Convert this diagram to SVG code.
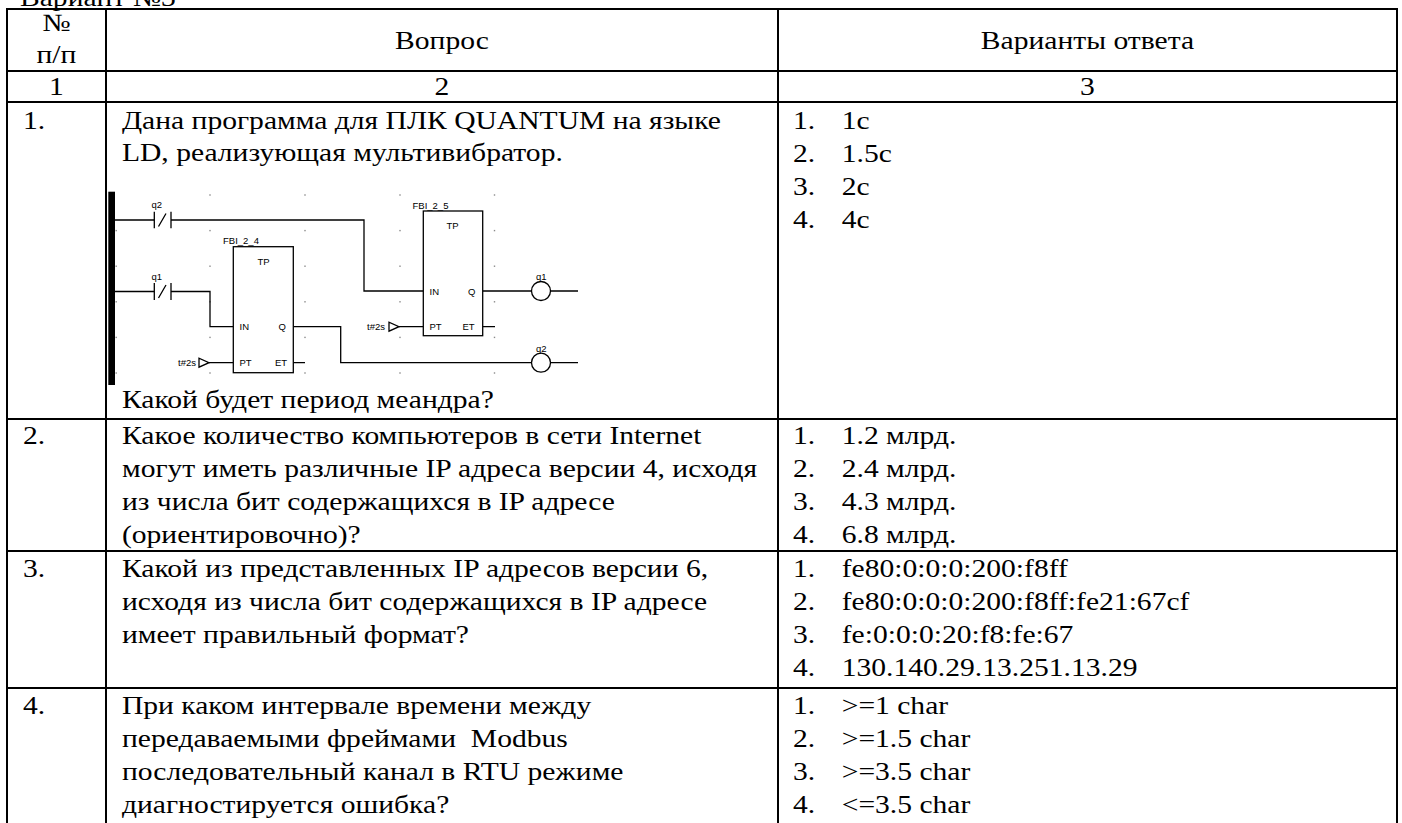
<svg xmlns="http://www.w3.org/2000/svg" width="1402" height="823" viewBox="0 0 1402 823">
<style>
.t{font-family:"Liberation Serif","Times New Roman",serif;font-size:25px;fill:#000}
.c{text-anchor:middle}
.g{stroke:#000;stroke-width:2;fill:none}
.w{stroke:#000;stroke-width:1.3;fill:none}
.bx{stroke:#000;stroke-width:1.3;fill:#fff}
.s{font-family:"Liberation Sans",Arial,sans-serif;font-size:9.5px;fill:#000}
.d{fill:#8a8a8a}
</style>
<rect width="1402" height="823" fill="#fff"/>
<g id="grid-lines">
<path class="g" d="M6,9H1398M6,71H1398M6,102H1398M6,419H1398M6,551H1398M6,688H1398M7,8V823M106,8V823M778,8V823M1397,8V823"/>
</g>
<g id="texts" transform="scale(1.184 1)">
<text class="t" x="16.9" y="6">Вариант №3</text>
<g id="header">
<text class="t c" x="47.7" y="31">№</text>
<text class="t c" x="47.7" y="63">п/п</text>
<text class="t c" x="373.3" y="49">Вопрос</text>
<text class="t c" x="918.5" y="49">Варианты ответа</text>
<text class="t c" x="47.7" y="95">1</text>
<text class="t c" x="373.3" y="95">2</text>
<text class="t c" x="918.5" y="95">3</text>
</g>
<g id="row1">
<text class="t" x="19.4" y="129">1.</text>
<text class="t" x="103" y="129">Дана программа для ПЛК QUANTUM на языке</text>
<text class="t" x="103" y="161">LD, реализующая мультивибратор.</text>
<text class="t" x="103" y="408">Какой будет период меандра?</text>
<text class="t" x="669.8" y="129">1.</text><text class="t" x="710.9" y="129">1с</text>
<text class="t" x="669.8" y="162">2.</text><text class="t" x="710.9" y="162">1.5с</text>
<text class="t" x="669.8" y="195">3.</text><text class="t" x="710.9" y="195">2с</text>
<text class="t" x="669.8" y="228">4.</text><text class="t" x="710.9" y="228">4с</text>
</g>
<g id="row2">
<text class="t" x="19.4" y="444">2.</text>
<text class="t" x="103" y="444">Какое количество компьютеров в сети Internet</text>
<text class="t" x="103" y="477">могут иметь различные IP адреса версии 4, исходя</text>
<text class="t" x="103" y="510">из числа бит содержащихся в IP адресе</text>
<text class="t" x="103" y="543">(ориентировочно)?</text>
<text class="t" x="669.8" y="444">1.</text><text class="t" x="710.9" y="444">1.2 млрд.</text>
<text class="t" x="669.8" y="477">2.</text><text class="t" x="710.9" y="477">2.4 млрд.</text>
<text class="t" x="669.8" y="510">3.</text><text class="t" x="710.9" y="510">4.3 млрд.</text>
<text class="t" x="669.8" y="543">4.</text><text class="t" x="710.9" y="543">6.8 млрд.</text>
</g>
<g id="row3">
<text class="t" x="19.4" y="577">3.</text>
<text class="t" x="103" y="577">Какой из представленных IP адресов версии 6,</text>
<text class="t" x="103" y="610">исходя из числа бит содержащихся в IP адресе</text>
<text class="t" x="103" y="643">имеет правильный формат?</text>
<text class="t" x="669.8" y="577">1.</text><text class="t" x="710.9" y="577">fe80:0:0:0:200:f8ff</text>
<text class="t" x="669.8" y="610">2.</text><text class="t" x="710.9" y="610">fe80:0:0:0:200:f8ff:fe21:67cf</text>
<text class="t" x="669.8" y="643">3.</text><text class="t" x="710.9" y="643">fe:0:0:0:20:f8:fe:67</text>
<text class="t" x="669.8" y="676">4.</text><text class="t" x="710.9" y="676">130.140.29.13.251.13.29</text>
</g>
<g id="row4">
<text class="t" x="19.4" y="714">4.</text>
<text class="t" x="103" y="714">При каком интервале времени между</text>
<text class="t" x="103" y="747" xml:space="preserve">передаваемыми фреймами  Modbus</text>
<text class="t" x="103" y="780">последовательный канал в RTU режиме</text>
<text class="t" x="103" y="813">диагностируется ошибка?</text>
<text class="t" x="669.8" y="714">1.</text><text class="t" x="710.9" y="714">&gt;=1 char</text>
<text class="t" x="669.8" y="747">2.</text><text class="t" x="710.9" y="747">&gt;=1.5 char</text>
<text class="t" x="669.8" y="780">3.</text><text class="t" x="710.9" y="780">&gt;=3.5 char</text>
<text class="t" x="669.8" y="813">4.</text><text class="t" x="710.9" y="813">&lt;=3.5 char</text>
</g>
</g>
<g id="ladder">
<g id="dots" class="d">
<rect x="115.5" y="229.9" width="1.4" height="1.4"/><rect x="115.5" y="265.5" width="1.4" height="1.4"/><rect x="115.5" y="301.1" width="1.4" height="1.4"/><rect x="115.5" y="336.7" width="1.4" height="1.4"/><rect x="115.5" y="372.3" width="1.4" height="1.4"/>
<rect x="209.3" y="194.3" width="1.4" height="1.4"/><rect x="209.3" y="229.9" width="1.4" height="1.4"/><rect x="209.3" y="265.5" width="1.4" height="1.4"/><rect x="209.3" y="301.1" width="1.4" height="1.4"/><rect x="209.3" y="336.7" width="1.4" height="1.4"/><rect x="209.3" y="372.3" width="1.4" height="1.4"/>
<rect x="304.3" y="194.3" width="1.4" height="1.4"/><rect x="304.3" y="229.9" width="1.4" height="1.4"/><rect x="304.3" y="265.5" width="1.4" height="1.4"/><rect x="304.3" y="301.1" width="1.4" height="1.4"/><rect x="304.3" y="336.7" width="1.4" height="1.4"/><rect x="304.3" y="372.3" width="1.4" height="1.4"/>
<rect x="399.3" y="194.3" width="1.4" height="1.4"/><rect x="399.3" y="229.9" width="1.4" height="1.4"/><rect x="399.3" y="265.5" width="1.4" height="1.4"/><rect x="399.3" y="301.1" width="1.4" height="1.4"/><rect x="399.3" y="336.7" width="1.4" height="1.4"/><rect x="399.3" y="372.3" width="1.4" height="1.4"/>
<rect x="493.8" y="194.3" width="1.4" height="1.4"/><rect x="493.8" y="229.9" width="1.4" height="1.4"/><rect x="493.8" y="265.5" width="1.4" height="1.4"/><rect x="493.8" y="301.1" width="1.4" height="1.4"/><rect x="493.8" y="336.7" width="1.4" height="1.4"/><rect x="493.8" y="372.3" width="1.4" height="1.4"/>
</g>
<rect id="rail" x="108.3" y="191.7" width="6.7" height="193.3" fill="#000"/>
<g id="connectors" class="w">
<path d="M115,220H154.3M171,220H364V291H423.3"/>
<path d="M115,291.5H154.3M171,291.5H210V326.7H233.3"/>
<path d="M293.3,326.7H340.7V362.7H531.5M550.5,362.7H578"/>
<path d="M293.3,362.7H305M209,362.7H233.3"/>
<path d="M482.7,291H531.5M550.5,291H578"/>
<path d="M482.7,326.7H495M399,326.7H423.3"/>
</g>
<g id="contact-q2" class="w">
<path d="M154.3,211.7V228.3M171,211.7V228.3M158.5,226.5L166,213.5"/>
<text class="s" x="151.5" y="208" stroke="none">q2</text>
</g>
<g id="contact-q1" class="w">
<path d="M154.3,283V300M171,283V300M158.5,298L166,285"/>
<text class="s" x="151.5" y="279.5" stroke="none">q1</text>
</g>
<g id="fbi-2-4">
<rect class="bx" x="233.3" y="246.7" width="60" height="126"/>
<text class="s" x="223" y="244">FBI_2_4</text>
<text class="s" x="257.5" y="265">TP</text>
<text class="s" x="239.5" y="329.5">IN</text>
<text class="s" x="278.5" y="329.5">Q</text>
<text class="s" x="239.5" y="366">PT</text>
<text class="s" x="275" y="366">ET</text>
<text class="s" x="178" y="366">t#2s</text>
<path class="w" d="M199,358.2V367.2L209,362.7Z"/>
</g>
<g id="fbi-2-5">
<rect class="bx" x="423.3" y="211" width="59.4" height="124.7"/>
<text class="s" x="412.5" y="208.5">FBI_2_5</text>
<text class="s" x="446.5" y="228.5">TP</text>
<text class="s" x="429.5" y="294.5">IN</text>
<text class="s" x="468" y="294.5">Q</text>
<text class="s" x="429.5" y="330">PT</text>
<text class="s" x="462.5" y="330">ET</text>
<text class="s" x="367" y="330">t#2s</text>
<path class="w" d="M389,322.2V331.2L399,326.7Z"/>
</g>
<g id="coil-q1">
<circle class="w" cx="541" cy="291" r="9.5"/>
<text class="s" x="536" y="280">q1</text>
</g>
<g id="coil-q2">
<circle class="w" cx="541" cy="362.7" r="9.5"/>
<text class="s" x="536" y="351.5">q2</text>
</g>
</g>
</svg>
